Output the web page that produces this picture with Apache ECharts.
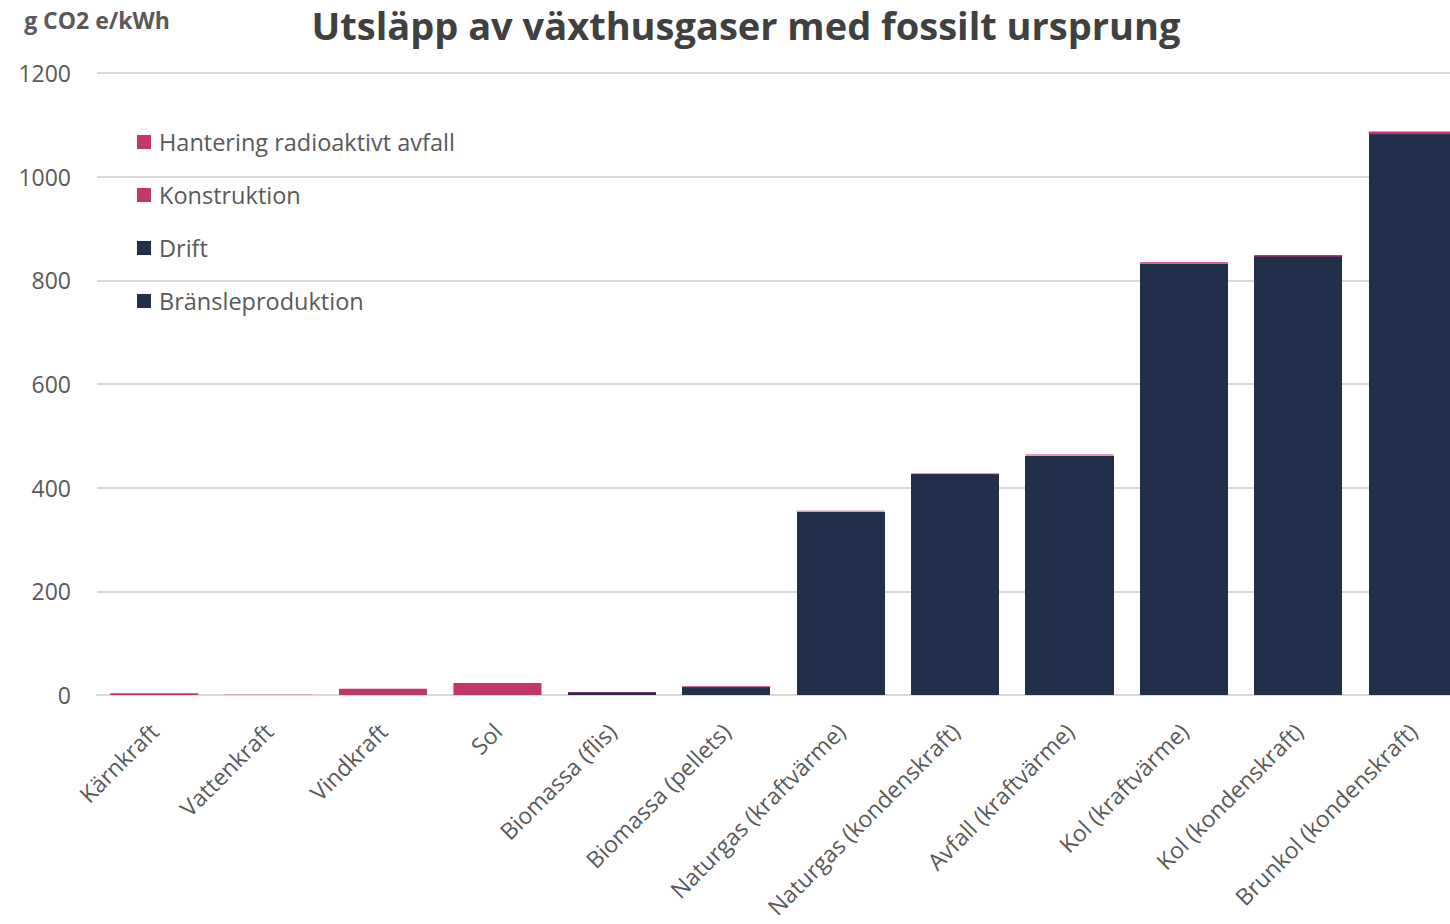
<!DOCTYPE html>
<html>
<head>
<meta charset="utf-8">
<title>Utsläpp av växthusgaser</title>
<script src="https://cdn.jsdelivr.net/npm/echarts@6/dist/echarts.min.js"></script>
<style>
  html, body { margin: 0; padding: 0; background: #fff; overflow: hidden; }
  /* the last bar is cut by the right edge, so the chart is a bit wider than the window */
  #main { width: 1470px; height: 924px; }
  /* no hairline seams between the two navy parts */
  #main svg path[fill="#222f4a"], #main svg path[fill="rgb(34,47,74)"] { shape-rendering: crispEdges; }
</style>
</head>
<body>
<div id="main"></div>
<script>
  // kategorier
  var categories = ['Kärnkraft', 'Vattenkraft', 'Vindkraft', 'Sol', 'Biomassa (flis)', 'Biomassa (pellets)',
    'Naturgas (kraftvärme)', 'Naturgas (kondenskraft)', 'Avfall (kraftvärme)', 'Kol (kraftvärme)',
    'Kol (kondenskraft)', 'Brunkol (kondenskraft)']

  // g CO2 e/kWh per del
  var bransleproduktion = [0, 0, 0, 0, 5, 15, 54, 61, 12, 72, 76, 110]
  var drift = [0, 0, 0, 0, 0, 0, 300, 365, 450, 760, 770, 972]
  var konstruktion = [2, 0.5, 12, 23, 1, 2, 1.5, 1.5, 2, 3, 3, 5]
  var hantering = [1.5, 0, 0, 0, 0, 0, 0, 0, 0, 0, 0, 0]

  var yTicks = [0, 200, 400, 600, 800, 1000, 1200]

  var pink = '#c1376a'
  var navy = '#222f4a'
  var grey = '#595959'

  var chart = echarts.init(document.getElementById('main'), null, { renderer: 'svg' })

  var option = {
    backgroundColor: '#fff',
    animation: false,
    textStyle: { fontFamily: 'Open Sans' },
    title: {
      text: 'Utsläpp av växthusgaser med fossilt ursprung',
      left: 741,
      textAlign: 'center',
      top: 1,
      textStyle: { fontSize: 38, fontWeight: 'bold', color: '#404040', fontFamily: 'Open Sans' }
    },
    legend: {
      orient: 'vertical',
      left: 132,
      top: 125,
      itemWidth: 14,
      itemHeight: 14,
      itemGap: 29,
      icon: 'rect',
      data: ['Hantering radioaktivt avfall', 'Konstruktion', 'Drift', 'Bränsleproduktion'],
      textStyle: { fontSize: 23.5, color: grey, fontFamily: 'Open Sans', padding: [0, 0, 0, 3] }
    },
    grid: {
      left: 97,
      right: 0,
      top: 73,
      height: 622
    },
    xAxis: {
      type: 'category',
      data: categories,
      axisTick: { show: false },
      axisLine: { lineStyle: { color: '#d9d9d9', width: 2 } },
      axisLabel: {
        interval: 0,
        rotate: 45,
        margin: 32,
        fontSize: 23,
        color: grey,
        fontFamily: 'Open Sans'
      }
    },
    yAxis: {
      type: 'value',
      min: yTicks[0],
      max: yTicks[yTicks.length - 1],
      interval: 200,
      name: 'g CO2 e/kWh',
      nameLocation: 'end',
      nameGap: 42,
      nameTextStyle: { align: 'center', fontSize: 23, fontWeight: 'bold', color: grey, fontFamily: 'Open Sans' },
      axisLine: { show: false },
      axisTick: { show: false },
      axisLabel: { fontSize: 23, color: grey, margin: 26, fontFamily: 'Open Sans', formatter: function (v) { return String(v) } },
      splitLine: { lineStyle: { color: '#d9d9d9', width: 2 } }
    },
    series: [
      { name: 'Bränsleproduktion', type: 'bar', stack: 'tot', data: bransleproduktion, barCategoryGap: '23%',
        itemStyle: { color: navy } },
      { name: 'Drift', type: 'bar', stack: 'tot', data: drift, itemStyle: { color: navy } },
      { name: 'Konstruktion', type: 'bar', stack: 'tot', data: konstruktion, itemStyle: { color: pink } },
      { name: 'Hantering radioaktivt avfall', type: 'bar', stack: 'tot', data: hantering, itemStyle: { color: pink } }
    ]
  }

  chart.setOption(option)
</script>
</body>
</html>
